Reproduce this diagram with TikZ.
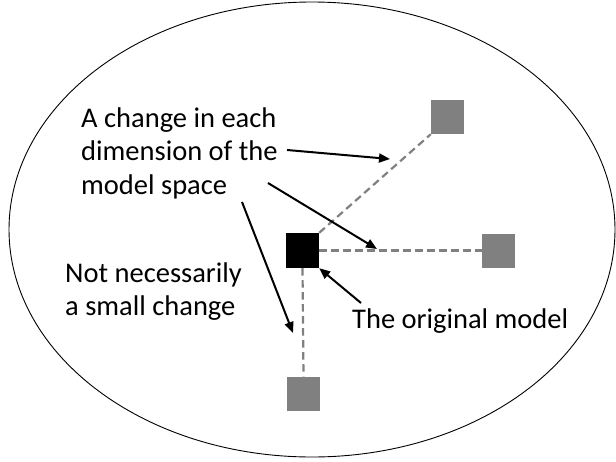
\documentclass[tikz,border=0pt]{standalone}
\usepackage{fontspec}
\setmainfont{Carlito}
\usetikzlibrary{arrows.meta}
\definecolor{sqgray}{RGB}{128,128,128}
\begin{document}
\begin{tikzpicture}[x=1pt,y=-1pt,
  lbl/.style={anchor=base west,inner sep=0pt,font=\fontsize{28.5}{34}\selectfont},
  graysq/.style={fill=sqgray,draw=none,minimum width=33pt,minimum height=34pt,inner sep=0pt},
  origsq/.style={fill=black,draw=none,minimum width=33pt,minimum height=35pt,inner sep=0pt},
  dimline/.style={draw=sqgray,line width=2.2pt,dash pattern=on 7.5pt off 4.5pt},
  pointer/.style={draw=black,line width=2pt,-{Triangle[length=11pt,width=9pt]}},
  space/.style={draw=black,line width=0.9pt}]
\useasboundingbox (0,0) rectangle (616,461);
\draw[space] (312,229.5) ellipse [x radius=303, y radius=227.5];
\node[origsq] (orig) at (302.5,250.5) {};
\node[graysq] (up) at (447.5,117) {};
\node[graysq] (right) at (498.5,250.5) {};
\node[graysq] (down) at (303.5,393.5) {};
\draw[dimline] (orig.north east) -- (up.south west);
\draw[dimline] (orig.east) -- (right.west);
\draw[dimline] (orig.south) -- (down.north);
\node[lbl] (l1) at (81,127) {A change in each};
\node[lbl] (l2) at (81,160.5) {dimension of the};
\node[lbl] (l3) at (81,194) {model space};
\node[lbl] (n1) at (65,282) {Not necessarily};
\node[lbl] (n2) at (65,315) {a small change};
\node[lbl] (om) at (352,328) {The original model};
\coordinate (s1) at (287,150);
\coordinate (t1) at (390,159);
\coordinate (s2) at (268,183);
\coordinate (t2) at (377,249);
\coordinate (s3) at (242,202);
\coordinate (t3) at (293,333);
\coordinate (s4) at (361,303);
\draw[pointer] (s1) -- (t1);
\draw[pointer] (s2) -- (t2);
\draw[pointer] (s3) -- (t3);
\draw[pointer] (s4) -- (orig.south east);
\end{tikzpicture}
\end{document}
